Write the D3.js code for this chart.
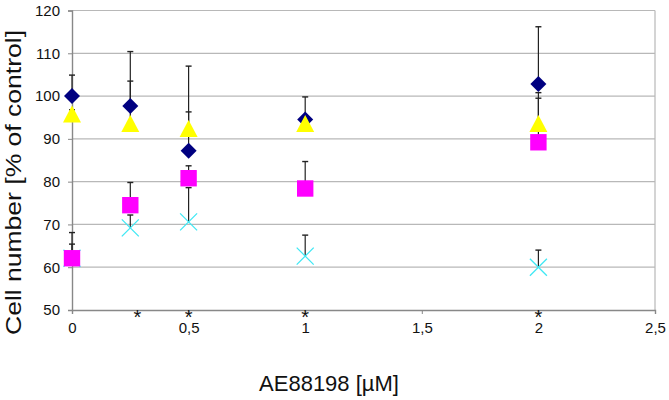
<!DOCTYPE html>
<html>
<head>
<meta charset="utf-8">
<script src="https://cdn.jsdelivr.net/npm/d3@7"></script>
<style>
  body { margin: 0; background: #fff; }
  svg { display: block; font-family: "Liberation Sans", Arial, sans-serif; }
</style>
</head>
<body>
<div id="chart"></div>
<script>
// doses (µM) and the four series, values + upward SD
var doses = [0, 0.25, 0.5, 1, 2];

var diamondVals = [100, 97.7, 87.2, 94.5, 102.8];
var diamondErr = [4.9, 12.7, 19.8, 5.3, 13.4];

var triangleVals = [95.8, 93.6, 92.4, 93.6, 93.6];
var triangleErr = [1, 9.9, 3.9, 1, 7.2];

var squareVals = [62.1, 74.5, 80.8, 78.4, 89.2];
var squareErr = [6, 5.3, 2.9, 6.3, 10.3];

var crossVals = [62.1, 69.2, 70.6, 62.6, 60];
var crossErr = [3.3, 3, 8, 4.9, 4];

var starX = [0.28, 0.5, 1, 2];

var xTicks = [0, 0.5, 1, 1.5, 2, 2.5];
var yTicks = [50, 60, 70, 80, 90, 100, 110, 120];

var W = 669, H = 400;
var margin = { top: 10.5, right: 14, bottom: 90, left: 72 };

var x = d3.scaleLinear().domain([0, 2.5]).range([margin.left, W - margin.right]);
var y = d3.scaleLinear().domain([50, 120]).range([H - margin.bottom, margin.top]);

var svg = d3.select('#chart').append('svg')
    .attr('width', W)
    .attr('height', H);

// grid
svg.append('g')
  .selectAll('line')
    .data(yTicks.slice(1))
    .enter()
  .append('line')
    .attr('x1', x(0))
    .attr('x2', x(2.5))
    .attr('y1', function (d) { return y(d); })
    .attr('y2', function (d) { return y(d); })
    .attr('stroke', '#b8b8b8')
    .attr('stroke-width', 1.2);

svg.append('line')
    .attr('x1', x(2.5)).attr('x2', x(2.5))
    .attr('y1', y(120)).attr('y2', y(50))
    .attr('stroke', '#b8b8b8')
    .attr('stroke-width', 1.2);

// axes
var yAxis = d3.axisLeft(y).tickValues(yTicks).tickSize(4).tickPadding(8);
var xAxis = d3.axisBottom(x).tickValues(xTicks).tickSize(4).tickPadding(8)
    .tickFormat(function (d) { return String(d).replace('.', ','); });

function styleAxis(g) {
  g.select('.domain').attr('stroke', '#888').attr('stroke-width', 1.4);
  g.selectAll('.tick line').attr('stroke', '#888');
  g.selectAll('.tick text')
    .attr('fill', '#111')
    .style('font-family', '"Liberation Sans", Arial, sans-serif')
    .style('font-size', '15px');
}

svg.append('g')
    .attr('transform', 'translate(0,' + y(50) + ')')
    .call(xAxis)
    .call(styleAxis);

svg.append('g')
    .attr('transform', 'translate(' + x(0) + ',0)')
    .call(yAxis)
    .call(styleAxis);

// series
var series = [
  { shape: 'diamond', color: '#000080', vals: diamondVals, err: diamondErr },
  { shape: 'triangle', color: '#ffff00', vals: triangleVals, err: triangleErr },
  { shape: 'cross', color: '#40e8f4', vals: crossVals, err: crossErr },
  { shape: 'square', color: '#ff00ff', vals: squareVals, err: squareErr }
];

function points(s) {
  return doses.map(function (d, i) {
    return { x: d, v: s.vals[i], e: s.err[i] };
  });
}

function markerPath(shape) {
  var p = d3.path();
  if (shape === 'diamond') {
    p.moveTo(0, -8); p.lineTo(8, 0); p.lineTo(0, 8); p.lineTo(-8, 0); p.closePath();
  } else if (shape === 'triangle') {
    p.moveTo(0, -8.5); p.lineTo(9, 8.5); p.lineTo(-9, 8.5); p.closePath();
  } else if (shape === 'square') {
    p.rect(-8.2, -8.2, 16.4, 16.4);
  } else {
    p.moveTo(-8.5, -8.5); p.lineTo(8.5, 8.5);
    p.moveTo(8.5, -8.5); p.lineTo(-8.5, 8.5);
  }
  return p.toString();
}

// error bars (upward only) under the markers
var errG = svg.append('g');
series.forEach(function (s) {
  var g = errG.selectAll(null)
      .data(points(s))
      .enter()
    .append('g');
  g.append('line')
      .attr('x1', function (d) { return x(d.x); })
      .attr('x2', function (d) { return x(d.x); })
      .attr('y1', function (d) { return y(d.v); })
      .attr('y2', function (d) { return y(d.v + d.e); })
      .attr('stroke', '#222')
      .attr('stroke-width', 1.2);
  g.append('line')
      .attr('x1', function (d) { return x(d.x) - 3; })
      .attr('x2', function (d) { return x(d.x) + 3; })
      .attr('y1', function (d) { return y(d.v + d.e); })
      .attr('y2', function (d) { return y(d.v + d.e); })
      .attr('stroke', '#222')
      .attr('stroke-width', 1.4);
});

series.forEach(function (s) {
  svg.append('g')
    .selectAll('path')
      .data(points(s))
      .enter()
    .append('path')
      .attr('transform', function (d) { return 'translate(' + x(d.x) + ',' + y(d.v) + ')'; })
      .attr('d', markerPath(s.shape))
      .attr('fill', s.shape === 'cross' ? 'none' : s.color)
      .attr('stroke', s.shape === 'cross' ? s.color : 'none')
      .attr('stroke-width', 1.3);
});

// significance marks
svg.append('g')
  .selectAll('text')
    .data(starX)
    .enter()
  .append('text')
    .attr('x', function (d) { return x(d); })
    .attr('y', y(50) + 14)
    .attr('text-anchor', 'middle')
    .style('font-size', '20px')
    .attr('fill', '#111')
    .text('*');

// axis titles
svg.append('text')
    .attr('transform', 'translate(21,182.5) rotate(-90)')
    .attr('text-anchor', 'middle')
    .attr('textLength', 305)
    .attr('lengthAdjust', 'spacingAndGlyphs')
    .style('font-size', '22px')
    .attr('fill', '#111')
    .text('Cell number [% of control]');

svg.append('text')
    .attr('x', 329)
    .attr('y', 391)
    .attr('text-anchor', 'middle')
    .style('font-size', '22px')
    .attr('fill', '#111')
    .text('AE88198 [µM]');
</script>
</body>
</html>
